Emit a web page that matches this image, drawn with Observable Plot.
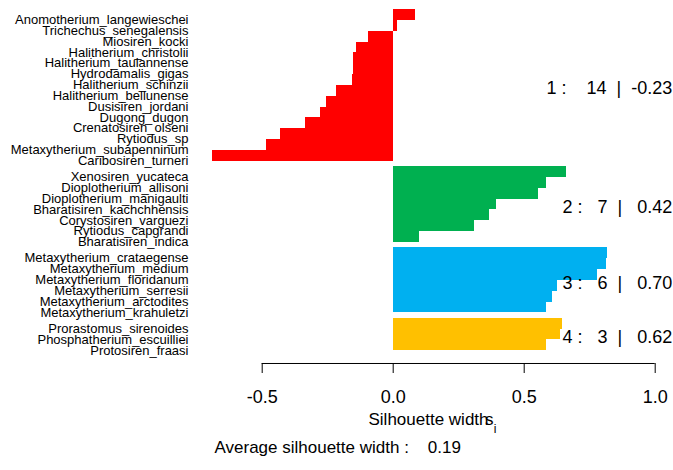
<!DOCTYPE html>
<html>
<head>
<meta charset="utf-8">
<script src="https://cdn.jsdelivr.net/npm/d3@7"></script>
<script src="https://cdn.jsdelivr.net/npm/@observablehq/plot@0.6"></script>
<style>
  html, body { margin: 0; padding: 0; background: #ffffff; }
  svg { display: block; }
</style>
</head>
<body>
<div id="chart"></div>
<script>
// ---- Data (silhouette widths per cluster, top to bottom) ----
const cluster1Species = ["Anomotherium_langewieschei","Trichechus_senegalensis","Miosiren_kocki","Halitherium_christolii","Halitherium_taulannense","Hydrodamalis_gigas","Halitherium_schinzii","Halitherium_bellunense","Dusisiren_jordani","Dugong_dugon","Crenatosiren_olseni","Rytiodus_sp","Metaxytherium_subapenninum","Caribosiren_turneri"];
const cluster1Widths = [0.086, 0.017, -0.094, -0.140, -0.151, -0.152, -0.155, -0.216, -0.255, -0.278, -0.335, -0.431, -0.485, -0.688];

const cluster2Species = ["Xenosiren_yucateca","Dioplotherium_allisoni","Dioplotherium_manigaulti","Bharatisiren_kachchhensis","Corystosiren_varguezi","Rytiodus_capgrandi","Bharatisiren_indica"];
const cluster2Widths = [0.660, 0.586, 0.555, 0.395, 0.368, 0.310, 0.100];

const cluster3Species = ["Metaxytherium_crataegense","Metaxytherium_medium","Metaxytherium_floridanum","Metaxytherium_serresii","Metaxytherium_arctodites","Metaxytherium_krahuletzi"];
const cluster3Widths = [0.818, 0.814, 0.780, 0.629, 0.607, 0.584];

const cluster4Species = ["Prorastomus_sirenoides","Phosphatherium_escuilliei","Protosiren_fraasi"];
const cluster4Widths = [0.648, 0.640, 0.585];

const clusterIds = [1, 2, 3, 4];
const clusterSizes = [14, 7, 6, 3];
const clusterAvgLabels = ["-0.23", "0.42", "0.70", "0.62"];
const clusterColors = ["#FF0000", "#00B050", "#00B0F0", "#FFC000"];
const averageWidthLabel = "0.19";
const xTicks = [-0.5, 0, 0.5, 1];
const xLabel = "Silhouette width";

// ---- Build table ----
const speciesLists = [cluster1Species, cluster2Species, cluster3Species, cluster4Species];
const widthLists = [cluster1Widths, cluster2Widths, cluster3Widths, cluster4Widths];
const GAP = 0.5; // space between clusters, in bar units (R silhouette plot)
const nb = "\u00A0";
const sp = k => nb.repeat(k);
const rows = [];
const clusters = [];
let idx = 0;
speciesLists.forEach((names, c) => {
  const start = idx + GAP * c;
  names.forEach((name, j) => {
    rows.push({name, s: widthLists[c][j], pos: idx + GAP * c, color: clusterColors[c]});
    idx++;
  });
  const end = idx + GAP * c;
  const n = clusterSizes[c];
  const avg = clusterAvgLabels[c];
  clusters.push({
    mid: (start + end) / 2,
    label: `${clusterIds[c]}${sp(1)}:${sp(n >= 10 ? 4 : 3)}${n}${sp(2)}|${sp(avg.startsWith("-") ? 2 : 3)}${avg}`
  });
});
const yMax = idx + GAP * (speciesLists.length - 1);

const font = "'Liberation Sans', Arial, Helvetica, sans-serif";
const axisOffset = 12.7;

const chart = Plot.plot({
  width: 673,
  height: 470,
  marginTop: 9,
  marginBottom: 119.7,
  marginLeft: 261.7,
  marginRight: 18.3,
  style: {fontFamily: font, background: "#ffffff", color: "#000000"},
  x: {domain: [xTicks[0], xTicks[xTicks.length - 1]], axis: null},
  y: {domain: [0, yMax], reverse: true, axis: null},
  color: {type: "identity"},
  marks: [
    Plot.rectX(rows, {x: "s", y1: "pos", y2: d => d.pos + 1, fill: "color", shapeRendering: "crispEdges"}),
    Plot.text(rows, {y: d => d.pos + 0.5, text: "name", frameAnchor: "left", textAnchor: "end", dx: -73.7, dy: 5, fontSize: 13, fill: "#000"}),
    Plot.text(clusters, {y: "mid", text: "label", frameAnchor: "right", textAnchor: "end", dx: 17, dy: 2.7, fontSize: 18, fill: "#000"}),
    Plot.ruleY([yMax], {x1: xTicks[0], x2: xTicks[xTicks.length - 1], dy: axisOffset, stroke: "#000", strokeWidth: 1}),
    Plot.axisX(xTicks, {anchor: "bottom", label: null, tickSize: 10, tickPadding: 16.9, dy: axisOffset, tickFormat: d => d.toFixed(1), fontSize: 18, stroke: "#000", fill: "#000"}),
    Plot.text([xLabel], {frameAnchor: "bottom-left", textAnchor: "start", dx: 106.3, dy: 74.3, fontSize: 17, fill: "#000"}),
    Plot.text(["s"], {frameAnchor: "bottom-left", textAnchor: "start", dx: 222.8, dy: 74.3, fontSize: 17, fill: "#000"}),
    Plot.text(["i"], {frameAnchor: "bottom-left", textAnchor: "start", dx: 231.5, dy: 81.8, fontSize: 12, fill: "#000"}),
    Plot.text([`Average silhouette width :${sp(4)}${averageWidthLabel}`], {frameAnchor: "bottom-left", textAnchor: "start", dx: -47.7, dy: 102.3, fontSize: 17, fill: "#000"})
  ]
});
document.getElementById("chart").appendChild(chart);
</script>
</body>
</html>
